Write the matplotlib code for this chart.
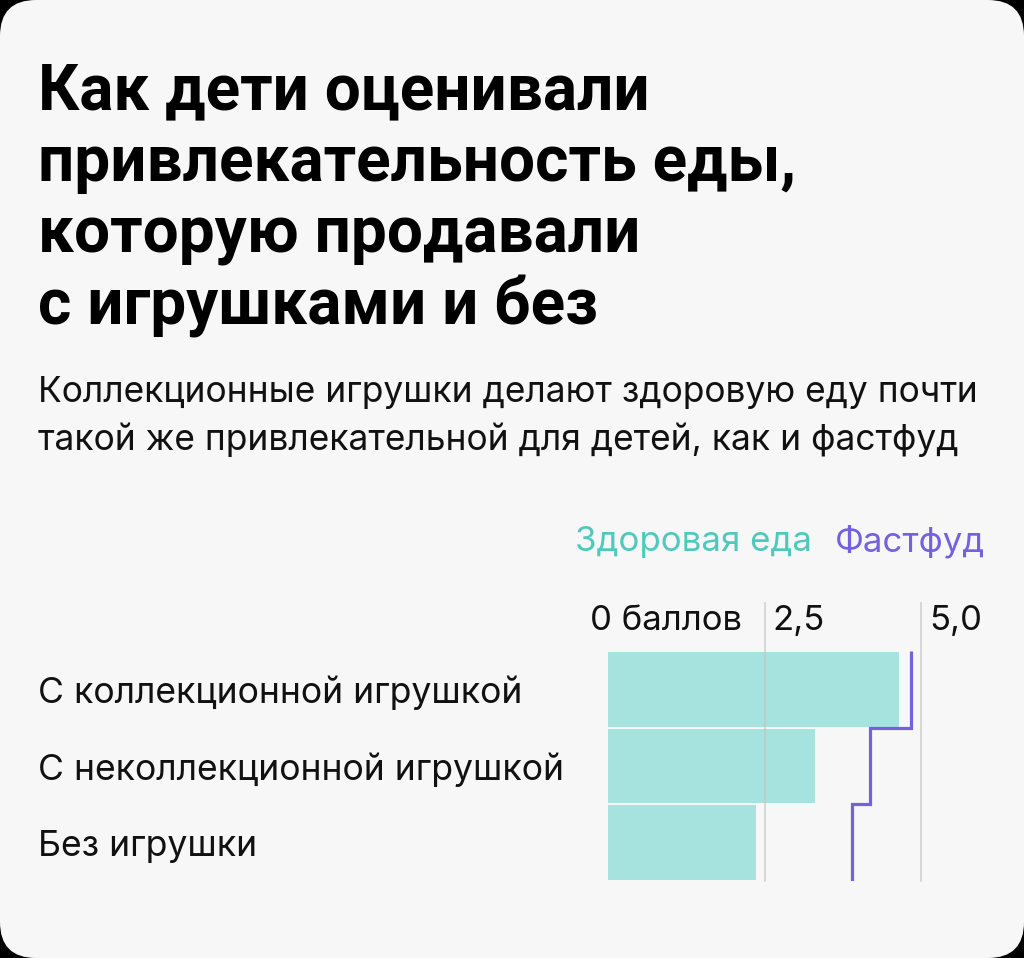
import matplotlib.pyplot as plt
import matplotlib.transforms as mtransforms
from matplotlib.patches import FancyBboxPatch

plt.rcParams['font.family'] = ['Inter', 'DejaVu Sans']

# Данные
categories = ["С коллекционной игрушкой", "С неколлекционной игрушкой", "Без игрушки"]
healthy = [4.65, 3.31, 2.37]
fastfood = [4.84, 4.18, 3.89]
ticks = [0, 2.5, 5.0]
tick_labels = ["0 баллов", "2,5", "5,0"]

title_lines = ["Как дети оценивали", "привлекательность еды,",
               "которую продавали", "с игрушками и без"]
subtitle_lines = ["Коллекционные игрушки делают здоровую еду почти",
                  "такой же привлекательной для детей, как и фастфуд"]

W, H = 1024, 958
BG = "#F7F7F7"
TEAL_BAR = "#A6E3DE"
TEAL = "#4FC9BC"
PURPLE = "#7461DB"
INK = "#111111"

fig = plt.figure(figsize=(W / 100, H / 100), dpi=100, facecolor="black")
renderer = fig.canvas.get_renderer()


def fit(texts, target_px):
    # подгоняем кегль так, чтобы первая строка группы имела нужную ширину
    w = texts[0].get_window_extent(renderer).width
    size = texts[0].get_fontsize() * target_px / w
    for t in texts:
        t.set_fontsize(size)


# карточка со скруглёнными углами
card = FancyBboxPatch((0, 0), W, H, boxstyle="round,pad=0,rounding_size=36",
                      transform=mtransforms.IdentityTransform(),
                      facecolor=BG, edgecolor="none", zorder=0)
fig.add_artist(card)

# Заголовок и подзаголовок
tt = [fig.text(38 / W, 1 - (109 + 72 * i) / H, line, fontsize=45, fontweight="bold",
               family=["Roboto", "DejaVu Sans"], color="black", va="baseline")
      for i, line in enumerate(title_lines)]
fit(tt, 612)
st = [fig.text(38 / W, 1 - (402 + 48 * i) / H, line, fontsize=23.5, color=INK,
               va="baseline") for i, line in enumerate(subtitle_lines)]
fit(st, 938)

# Легенда
lg1 = fig.text(812 / W, 1 - 551 / H, "Здоровая еда", fontsize=24, color=TEAL,
               va="baseline", ha="right")
lg2 = fig.text(985 / W, 1 - 551 / H, "Фастфуд", fontsize=24, color=PURPLE,
               va="baseline", ha="right")
fit([lg1, lg2], 237)

# Область графика
ax = fig.add_axes([608 / W, 1 - 881 / H, 313 / W, 230 / H])
ax.set_facecolor("none")
for s in ax.spines.values():
    s.set_visible(False)
ax.set_xticks([])
ax.set_yticks([])
n = len(categories)
ax.set_xlim(0, 5)
ax.set_ylim(0, n)

ypos = [n - 0.5 - i for i in range(n)]
ax.barh(ypos, healthy, height=0.975, color=TEAL_BAR, zorder=1)

# ступенчатая линия фастфуда
ax.stairs(fastfood[::-1], range(n + 1), orientation="horizontal", baseline=None,
          color=PURPLE, linewidth=2.3, zorder=3)

# сетка и подписи шкалы
tick_texts = []
xtr = mtransforms.blended_transform_factory(ax.transData, ax.transAxes)
for t, lab in zip(ticks, tick_labels):
    if t > 0:
        ax.axvline(t, ymin=0, ymax=1.21, color="#C4C4C4", linewidth=1.1,
                   alpha=0.8, clip_on=False, zorder=2)
    off = mtransforms.ScaledTranslation(-22 / 100 if t == 0 else 8 / 100, 0,
                                        fig.dpi_scale_trans)
    x = 2.5 if t == 0 else t
    tick_texts.append(ax.text(x, 1.0 + 21 / 230, lab, transform=xtr + off,
                              fontsize=20, color=INK, ha="right" if t == 0 else "left",
                              va="baseline"))
fit(tick_texts, 152)

# подписи категорий
tr = mtransforms.blended_transform_factory(fig.transFigure, ax.transData)
cat_texts = [ax.text(38 / W, y - 0.18, cat, transform=tr, fontsize=24, color=INK,
                     ha="left", va="baseline")
             for y, cat in zip(ypos, categories)]
fit(cat_texts, 486)

fig.savefig("out.png", dpi=100, facecolor=fig.get_facecolor())
